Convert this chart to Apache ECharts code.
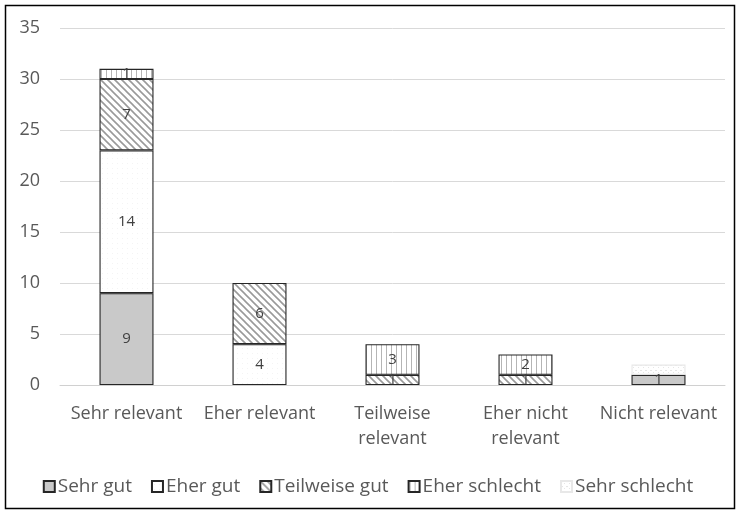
<!DOCTYPE html>
<html>
<head>
<meta charset="utf-8">
<script src="https://cdn.jsdelivr.net/npm/echarts@6/dist/echarts.min.js"></script>
<style>
  html, body { margin: 0; padding: 0; background: #fff; }
  #main { width: 736px; height: 510px; }
</style>
</head>
<body>
<div id="main"></div>
<script>
// Kategorien und Werte
var categories = ['Sehr relevant', 'Eher relevant', 'Teilweise\nrelevant', 'Eher nicht\nrelevant', 'Nicht relevant'];
var seriesNames = ['Sehr gut', 'Eher gut', 'Teilweise gut', 'Eher schlecht', 'Sehr schlecht'];
var sehrGut = [9, 0, 0, 0, 1];
var eherGut = [14, 4, 0, 0, 0];
var teilweiseGut = [7, 6, 1, 1, 0];
var eherSchlecht = [1, 0, 3, 2, 0];
var sehrSchlecht = [0, 0, 0, 0, 1];
var yTicks = [0, 5, 10, 15, 20, 25, 30, 35];

// Muster für die Füllungen
function makePattern(kind) {
    var c = document.createElement('canvas');
    var s = kind === 'diag' ? 7 : 5;
    c.width = s; c.height = s;
    var ctx = c.getContext('2d');
    ctx.fillStyle = '#fff';
    ctx.fillRect(0, 0, s, s);
    if (kind === 'gray') {
        ctx.fillStyle = '#c9c9c9';
        ctx.fillRect(0, 0, s, s);
    } else if (kind === 'diag') {
        ctx.strokeStyle = '#9a9a9a';
        ctx.lineWidth = 1.6;
        ctx.beginPath();
        ctx.moveTo(-1, -1); ctx.lineTo(s + 1, s + 1);
        ctx.moveTo(-1, s - 1); ctx.lineTo(1, s + 1);
        ctx.moveTo(s - 1, -1); ctx.lineTo(s + 1, 1);
        ctx.stroke();
    } else if (kind === 'vert') {
        ctx.fillStyle = '#b5b5b5';
        ctx.fillRect(1, 0, 1, s);
    } else if (kind === 'dots') {
        ctx.fillStyle = '#e6e6e6';
        ctx.fillRect(0, 0, 2, 1);
        ctx.fillRect(3, 2, 1, 1);
    } else if (kind === 'white') {
        ctx.fillStyle = '#f4f4f4';
        ctx.fillRect(2, 3, 1, 1);
    }
    return { image: c, repeat: 'repeat' };
}

var fills = [makePattern('gray'), makePattern('white'), makePattern('diag'), makePattern('vert'), makePattern('dots')];
var borders = ['#262626', '#262626', '#262626', '#262626', '#e8e8e8'];
var values = [sehrGut, eherGut, teilweiseGut, eherSchlecht, sehrSchlecht];
var labelShow = [true, true, true, true, false];

var chart = echarts.init(document.getElementById('main'));

var series = seriesNames.map(function (name, i) {
    return {
        name: name,
        type: 'bar',
        stack: 'total',
        barWidth: 54,
        // leere Segmente nicht zeichnen
        data: values[i].map(function (v) { return v ? v : '-'; }),
        itemStyle: { color: fills[i], borderColor: borders[i], borderWidth: 1.1 },
        label: {
            show: labelShow[i],
            position: 'inside',
            color: '#404040',
            fontSize: 15,
            fontFamily: 'Open Sans'
        }
    };
});

var option = {
    animation: false,
    backgroundColor: '#fff',
    textStyle: { fontFamily: 'Open Sans' },
    graphic: [{
        type: 'rect',
        shape: { x: 5.5, y: 5.5, width: 729, height: 503 },
        style: { fill: 'none', stroke: '#000', lineWidth: 1.5 },
        silent: true
    }],
    grid: { left: 60, right: 11, top: 28, bottom: 125 },
    legend: {
        bottom: 9,
        left: 'center',
        itemWidth: 11,
        itemHeight: 11,
        itemGap: 19,
        icon: 'rect',
        textStyle: { color: '#595959', fontSize: 19, fontFamily: 'Open Sans', padding: [0, 0, 0, -2] },
        data: seriesNames
    },
    xAxis: {
        type: 'category',
        data: categories,
        axisLine: { lineStyle: { color: '#d0d0d0', width: 1 } },
        axisTick: { show: false },
        axisLabel: { color: '#595959', fontSize: 18, lineHeight: 25, margin: 16, interval: 0 }
    },
    yAxis: {
        type: 'value',
        min: yTicks[0],
        max: yTicks[yTicks.length - 1],
        interval: 5,
        axisLine: { show: false },
        axisTick: { show: false },
        splitLine: { lineStyle: { color: '#d9d9d9', width: 1 } },
        axisLabel: { color: '#595959', fontSize: 18, margin: 20 }
    },
    series: series
};

chart.setOption(option);
</script>
</body>
</html>
